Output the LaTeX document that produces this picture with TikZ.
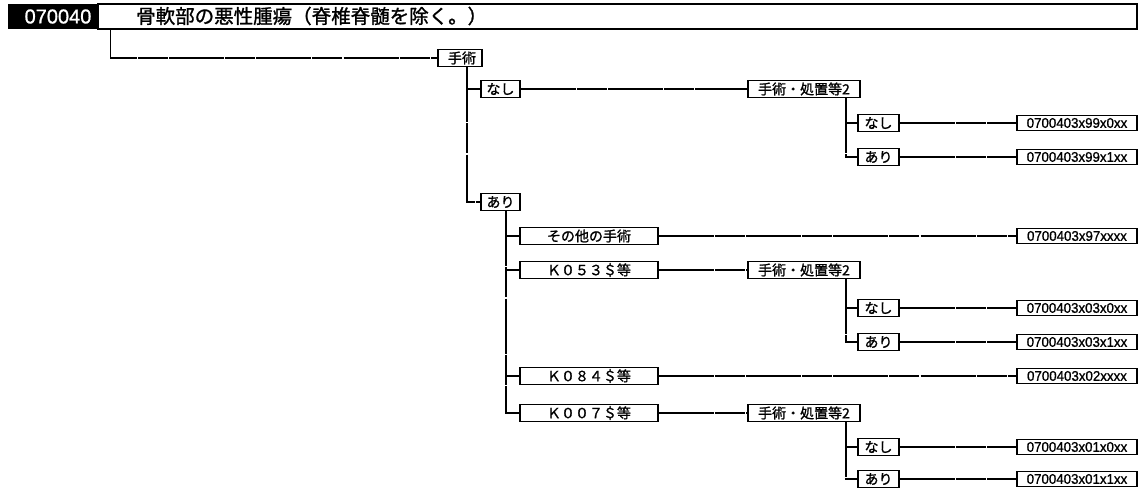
\documentclass[tikz,border=0pt]{standalone}
\usepackage{fontspec}
\setmainfont{Liberation Sans}
\newfontfamily\jp[FakeBold=1.2]{Noto Sans CJK JP}
\newfontfamily\nar[FakeStretch=0.95,FakeBold=1]{Liberation Sans}
\newfontfamily\hdfont[FakeBold=1]{Liberation Sans}
\begin{document}
\begin{tikzpicture}[x=1pt,y=-1pt,
  bx/.style={draw, line width=1.8pt, fill=white, inner sep=0pt, minimum height=17pt, font=\jp\fontsize{14}{14}\selectfont},
  rbx/.style={draw, line width=1.8pt, fill=white, inner sep=0pt, minimum width=120pt, minimum height=15pt, font=\nar\fontsize{14}{14}\selectfont},
  wire/.style={line width=1.4pt, dash pattern=on 55pt off 1pt on 30pt off 1.2pt},
]
\useasboundingbox (0,0) rectangle (1148,497);
% header
\node[draw, line width=1.6pt, minimum width=1039pt, minimum height=25pt, inner sep=0pt] (hdr) at (617.5,16.5) {};
\node[fill=black, text=white, minimum width=90pt, minimum height=25pt, inner sep=0pt, font=\hdfont\fontsize{20}{20}\selectfont] (code) at (53,16.5) {\hspace*{10pt}070040};
\node[anchor=west, inner sep=0pt, font=\jp\fontsize{19.5}{20}\selectfont] (title) at (136,16) {骨軟部の悪性腫瘍（脊椎脊髄を除く。）};
% level 1
\node[bx, minimum width=44pt] (s1) at (460,58) {\hspace*{4pt}手術};
\node[bx, minimum width=39pt] (nashi1) at (500.5,89) {なし};
\node[bx, minimum width=39pt] (ari1) at (500.5,202) {あり};
% nashi branch
\node[bx, minimum width=112pt] (k1) at (804,89) {手術・処置等2};
\node[bx, minimum width=41pt] (sn1) at (878.5,123) {なし};
\node[bx, minimum width=41pt] (sa1) at (878.5,157) {あり};
\node[rbx] (r1) at (1077,123) {0700403x99x0xx};
\node[rbx] (r2) at (1077,157) {0700403x99x1xx};
% ari branch
\node[bx, minimum width=138pt] (o1) at (589,236) {その他の手術};
\node[rbx] (r3) at (1077,236) {0700403x97xxxx};
\node[bx, minimum width=138pt] (k053) at (589,270) {Ｋ０５３＄等};
\node[bx, minimum width=112pt] (k2) at (804,270) {手術・処置等2};
\node[bx, minimum width=41pt] (sn2) at (878.5,308) {なし};
\node[bx, minimum width=41pt] (sa2) at (878.5,342) {あり};
\node[rbx] (r4) at (1077,308) {0700403x03x0xx};
\node[rbx] (r5) at (1077,342) {0700403x03x1xx};
\node[bx, minimum width=138pt] (k084) at (589,376) {Ｋ０８４＄等};
\node[rbx] (r6) at (1077,376) {0700403x02xxxx};
\node[bx, minimum width=138pt] (k007) at (589,413) {Ｋ００７＄等};
\node[bx, minimum width=112pt] (k3) at (804,413) {手術・処置等2};
\node[bx, minimum width=41pt] (sn3) at (878.5,447) {なし};
\node[bx, minimum width=41pt] (sa3) at (878.5,479) {あり};
\node[rbx] (r7) at (1077,447) {0700403x01x0xx};
\node[rbx] (r8) at (1077,479) {0700403x01x1xx};
% trunks
\coordinate (t0) at ([xshift=13pt]hdr.south west);
\coordinate (t1) at ([xshift=7pt]s1.south);
\coordinate (t2) at ([xshift=42pt]k1.south);
\coordinate (t3) at ([xshift=5.5pt]ari1.south);
\coordinate (t4) at ([xshift=42pt]k2.south);
\coordinate (t5) at ([xshift=42pt]k3.south);
% connectors
\draw[wire] (t0) |- (s1.west);
\draw[wire] (t1) |- (ari1.west);
\draw[wire] (nashi1.west) -- (nashi1.west -| t1);
\draw[wire] (nashi1.east) -- (k1.west);
\draw[wire] (t2) |- (sa1.west);
\draw[wire] (sn1.west) -- (sn1.west -| t2);
\draw[wire] (sn1.east) -- (r1.west);
\draw[wire] (sa1.east) -- (r2.west);
\draw[wire] (t3) |- (k007.west);
\draw[wire] (o1.west) -- (o1.west -| t3);
\draw[wire] (k053.west) -- (k053.west -| t3);
\draw[wire] (k084.west) -- (k084.west -| t3);
\draw[wire] (o1.east) -- (r3.west);
\draw[wire] (k053.east) -- (k2.west);
\draw[wire] (t4) |- (sa2.west);
\draw[wire] (sn2.west) -- (sn2.west -| t4);
\draw[wire] (sn2.east) -- (r4.west);
\draw[wire] (sa2.east) -- (r5.west);
\draw[wire] (k084.east) -- (r6.west);
\draw[wire] (k007.east) -- (k3.west);
\draw[wire] (t5) |- (sa3.west);
\draw[wire] (sn3.west) -- (sn3.west -| t5);
\draw[wire] (sn3.east) -- (r7.west);
\draw[wire] (sa3.east) -- (r8.west);
\end{tikzpicture}
\end{document}
